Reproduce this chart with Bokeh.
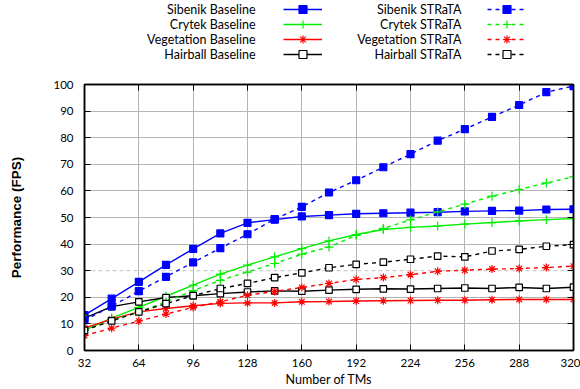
from bokeh.plotting import figure
from bokeh.layouts import column
from bokeh.models import (Range1d, FixedTicker, Legend, LegendItem, Label, Span,
                          LinearAxis, CustomJSTickFormatter)
from bokeh.embed import file_html
from bokeh.resources import INLINE

# ---- data ----
tms = [32, 48, 64, 80, 96, 112, 128, 144, 160, 176, 192, 208, 224, 240, 256, 272, 288, 304, 320]

sibenik_baseline = [13.3, 19.5, 25.8, 32.2, 38.2, 44.0, 48.0, 49.2, 50.4, 50.9, 51.4, 51.6, 51.8, 52.0, 52.3, 52.5, 52.6, 53.0, 53.1]
sibenik_strata = [11.4, 16.6, 22.3, 27.7, 33.1, 38.5, 43.7, 49.4, 54.0, 59.4, 64.0, 68.9, 73.8, 78.9, 83.2, 87.8, 92.3, 97.1, 99.4]
crytek_baseline = [7.6, 12.2, 16.2, 20.4, 24.6, 28.7, 32.1, 35.2, 38.3, 41.2, 43.6, 45.5, 46.3, 46.8, 47.5, 48.1, 48.7, 49.2, 49.6]
crytek_strata = [7.6, 11.4, 14.5, 18.3, 22.5, 26.4, 29.5, 32.7, 36.2, 38.9, 43.3, 45.9, 49.1, 52.1, 55.0, 58.0, 60.5, 63.0, 65.3]
vegetation_baseline = [8.4, 11.8, 14.5, 15.8, 16.8, 17.7, 17.9, 17.9, 18.3, 18.4, 18.6, 18.7, 18.8, 18.9, 18.9, 19.1, 19.2, 19.2, 19.2]
vegetation_strata = [5.6, 8.4, 11.1, 13.7, 16.2, 18.3, 20.8, 22.2, 23.7, 25.2, 26.7, 27.4, 28.5, 29.8, 30.2, 30.6, 30.8, 31.2, 31.7]
hairball_baseline = [12.2, 16.5, 18.3, 19.9, 20.6, 21.4, 22.0, 22.4, 22.3, 22.7, 23.0, 23.2, 23.1, 23.3, 23.5, 23.3, 23.7, 23.3, 23.8]
hairball_strata = [7.6, 11.1, 14.5, 17.6, 20.6, 23.3, 25.2, 27.4, 29.2, 31.1, 32.4, 33.2, 34.3, 35.5, 35.2, 37.4, 38.0, 39.2, 39.8]

x_ticks = [32, 64, 96, 128, 160, 192, 224, 256, 288, 320]
y_ticks = [0, 10, 20, 30, 40, 50, 60, 70, 80, 90, 100]
ref_line = 30

baseline_names = ["Sibenik Baseline", "Crytek Baseline", "Vegetation Baseline", "Hairball Baseline"]
strata_names = ["Sibenik STRaTA", "Crytek STRaTA", "Vegetation STRaTA", "Hairball STRaTA"]

FONT = "Lato"
W = 580
H = 389
LEG_H = 70
MAIN_H = H - LEG_H
BL, BR = 84, 7

p = figure(width=W, height=MAIN_H, output_backend="svg", toolbar_location=None,
           x_range=Range1d(32, 320), y_range=Range1d(0, 100),
           min_border_left=BL, min_border_right=BR, min_border_top=14, min_border_bottom=39)
p.outline_line_color = "black"
p.outline_line_width = 1.5

for ax in (p.xaxis[0], p.yaxis[0]):
    ax.major_tick_in = 6
    ax.major_tick_out = 0
    ax.minor_tick_line_color = None
    ax.axis_line_color = "black"
    ax.axis_line_width = 1.5
    ax.major_tick_line_color = "black"
    ax.major_label_text_font = FONT
    ax.major_label_text_font_size = "11.5px"
    ax.major_label_text_color = "black"
    ax.axis_label_text_color = "black"
    ax.axis_label_text_font_style = "normal"

p.xaxis.ticker = FixedTicker(ticks=x_ticks)
p.yaxis.ticker = FixedTicker(ticks=y_ticks)
p.xaxis.major_label_standoff = 8
p.yaxis.major_label_standoff = 11
p.xaxis.axis_label = "Number of TMs"
p.xaxis.axis_label_text_font = FONT
p.xaxis.axis_label_text_font_size = "12.5px"
p.xaxis.axis_label_standoff = 2
p.yaxis.axis_label = "Performance (FPS)"
p.yaxis.axis_label_text_font = "Liberation Sans"
p.yaxis.axis_label_text_font_size = "13.5px"
p.yaxis.axis_label_text_font_style = "bold"
p.yaxis.axis_label_standoff = 26

# mirrored inner ticks on top and right (no labels)
for loc, ticks in (("above", x_ticks), ("right", y_ticks)):
    mirror = LinearAxis(ticker=FixedTicker(ticks=ticks),
                        formatter=CustomJSTickFormatter(code="return ''"),
                        major_tick_in=6, major_tick_out=0, minor_tick_line_color=None,
                        major_label_standoff=0, major_label_text_font_size="1px",
                        axis_line_color="black", axis_line_width=1.5,
                        major_tick_line_color="black")
    p.add_layout(mirror, loc)

p.xgrid.grid_line_color = "#b4b4b4"
p.xgrid.grid_line_width = 1
p.ygrid.ticker = FixedTicker(ticks=[t for t in y_ticks if t != ref_line])
p.ygrid.grid_line_color = "#b4b4b4"
p.ygrid.grid_line_width = 1
p.add_layout(Span(location=ref_line, dimension="width", line_color="#c0c0c0",
                  line_dash="4 3", line_width=1, level="underlay"))

LW = 1.4
DASH = "4 4"

# (colour, dash, marker, fill, size)
styles = [
    ("#0000ff", "solid", "square", "#0000ff", 7),
    ("#00ee00", "solid", "cross", None, 9),
    ("#ff0000", "solid", "asterisk", None, 8),
    ("#000000", "solid", "square", "white", 6.5),
]
series_vals = [sibenik_baseline, crytek_baseline, vegetation_baseline, hairball_baseline,
               sibenik_strata, crytek_strata, vegetation_strata, hairball_strata]

for k, ys in enumerate(series_vals):
    col, dash, marker, fill, size = styles[k % 4]
    if k >= 4:
        dash = DASH
    p.line(tms, ys, line_color=col, line_width=LW, line_dash=dash)
    p.scatter(tms, ys, marker=marker, size=size, line_color=col, line_width=1.2,
              fill_color=fill if fill else col)

# ---- legend strip above the plot (labels left of the samples, as in the original) ----
# frame of this strip is aligned with the main plot's frame; data x == canvas x
lg = figure(width=W, height=LEG_H, output_backend="svg", toolbar_location=None,
            x_range=Range1d(BL, W - BR), y_range=Range1d(0, LEG_H),
            x_axis_type=None, y_axis_type=None,
            min_border_left=BL, min_border_right=BR, min_border_top=0, min_border_bottom=0)
lg.outline_line_color = None
lg.xgrid.visible = False
lg.ygrid.visible = False
# proxy renderers for legend samples live on a range far outside the view
lg.extra_y_ranges = {"proxy": Range1d(1000, 1100)}

glyph_h = 20
row_pitch = 15
first_row = 9
col_sample_x = [283, 487]
col_label_x = [255, 461]

for c, names in enumerate([baseline_names, strata_names]):
    for i, name in enumerate(names):
        col, dash, marker, fill, size = styles[i]
        if c == 1:
            dash = DASH
        ys = series_vals[c * 4 + i]
        lr = lg.line(tms, ys, line_color=col, line_width=LW, line_dash=dash, y_range_name="proxy")
        sr = lg.scatter(tms, ys, marker=marker, size=size, line_color=col, line_width=1.2,
                        fill_color=fill if fill else col, y_range_name="proxy")
        cy = first_row + i * row_pitch
        leg = Legend(items=[LegendItem(label=" ", renderers=[lr, sr])],
                     location=(col_sample_x[c] - BL, LEG_H - cy - glyph_h / 2),
                     orientation="vertical", padding=0, margin=0, spacing=0,
                     glyph_height=glyph_h, glyph_width=39, label_width=0, label_height=glyph_h,
                     label_standoff=0, label_text_font_size="1px",
                     border_line_color=None, background_fill_alpha=0)
        lg.add_layout(leg, "center")
        lg.add_layout(Label(x=col_label_x[c], y=LEG_H - cy, text=name,
                            text_align="right", text_baseline="middle",
                            text_font=FONT, text_font_size="12.5px", text_color="black"))

layout = column(lg, p, spacing=0)
open("out.html", "w").write(file_html(layout, INLINE))
